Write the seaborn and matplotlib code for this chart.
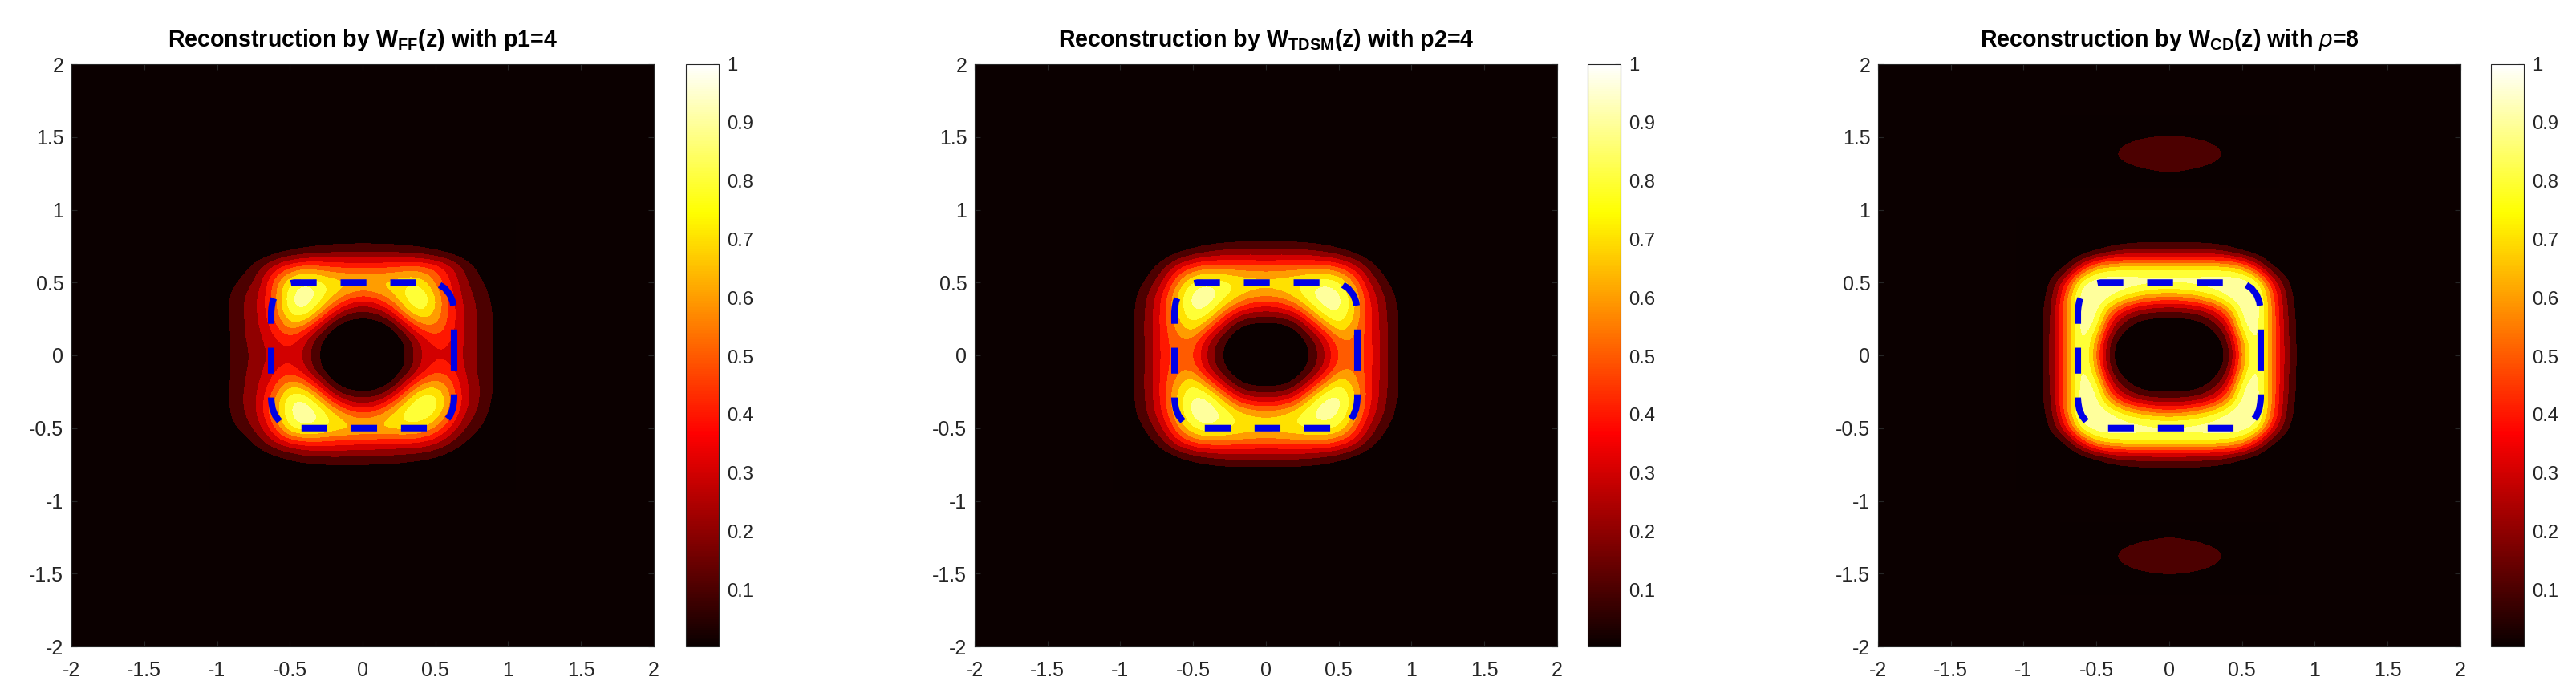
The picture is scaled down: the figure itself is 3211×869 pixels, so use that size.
import numpy as np
import matplotlib
matplotlib.use("Agg")
import matplotlib.pyplot as plt
import seaborn as sns
from matplotlib.cm import ScalarMappable
from matplotlib.colors import BoundaryNorm, ListedColormap, Normalize

# values, rows run from y=0.9 down to y=-0.9
x_vals = [-1.0, -0.9, -0.8, -0.7, -0.6, -0.5, -0.4, -0.3, -0.2, -0.1, 0.0,
          0.1, 0.2, 0.3, 0.4, 0.5, 0.6, 0.7, 0.8, 0.9, 1.0]
y_vals = [0.9, 0.8, 0.7, 0.6, 0.5, 0.4, 0.3, 0.2, 0.1, 0.0, -0.1, -0.2, -0.3,
          -0.4, -0.5, -0.6, -0.7, -0.8, -0.9]

ff_vals = [
    [0, 0, 0, 0, 0, 0, 0, 0, 0, 0, 0, 0, 0, 0, 0, 0, 0, 0, 0, 0, 0],
    [0, 0, 0, 0, 0, .01, .02, .03, .04, .04, .04, .04, .04, .03, .02, .01, 0, 0, 0, 0, 0],
    [0, 0, 0, .01, .05, .09, .13, .16, .18, .19, .2, .19, .18, .17, .14, .1, .06, .02, 0, 0, 0],
    [0, 0, .07, .2, .35, .52, .58, .56, .52, .5, .5, .5, .52, .55, .56, .5, .35, .18, .07, 0, 0],
    [0, .07, .15, .26, .57, .8, .92, .85, .78, .76, .75, .75, .76, .8, .78, .58, .4, .22, .12, .04, 0],
    [0, .12, .21, .32, .57, .9, 1.0, .9, .72, .57, .48, .55, .68, .85, .93, .72, .45, .26, .17, .07, 0],
    [.01, .12, .21, .32, .55, .86, .94, .7, .42, .22, .18, .22, .4, .7, .86, .7, .47, .28, .18, .09, 0],
    [.01, .11, .21, .3, .47, .68, .6, .35, .08, 0, 0, 0, .08, .34, .58, .62, .45, .3, .18, .1, .01],
    [.01, .11, .2, .28, .38, .45, .32, .1, 0, 0, 0, 0, 0, .1, .32, .45, .42, .29, .17, .09, .01],
    [.02, .11, .18, .26, .34, .38, .28, .1, 0, 0, 0, 0, 0, .1, .3, .38, .37, .29, .17, .1, .01],
    [.01, .11, .19, .28, .38, .45, .32, .1, 0, 0, 0, 0, 0, .1, .32, .47, .43, .3, .17, .1, .01],
    [.01, .11, .21, .3, .48, .68, .6, .35, .08, 0, 0, 0, .08, .35, .6, .68, .56, .32, .2, .09, 0],
    [.01, .12, .22, .33, .62, .9, .93, .7, .4, .22, .19, .22, .4, .68, .9, .88, .62, .35, .2, .08, 0],
    [0, .11, .21, .33, .65, .92, 1.0, .92, .75, .58, .5, .57, .72, .88, .92, .82, .56, .3, .17, .05, 0],
    [0, .07, .15, .28, .5, .84, .92, .88, .8, .78, .76, .76, .77, .78, .74, .6, .4, .2, .1, .02, 0],
    [0, 0, .05, .16, .3, .4, .47, .47, .46, .44, .43, .42, .41, .41, .4, .33, .2, .09, .03, 0, 0],
    [0, 0, 0, .02, .06, .11, .15, .17, .18, .18, .18, .17, .16, .14, .12, .08, .04, .01, 0, 0, 0],
    [0, 0, 0, 0, 0, .01, .02, .03, .03, .03, .03, .03, .03, .02, .01, .01, 0, 0, 0, 0, 0],
    [0, 0, 0, 0, 0, 0, 0, 0, 0, 0, 0, 0, 0, 0, 0, 0, 0, 0, 0, 0, 0],
]

tdsm_vals = [
    [0, 0, 0, 0, 0, 0, 0, 0, 0, 0, 0, 0, 0, 0, 0, 0, 0, 0, 0, 0, 0],
    [0, 0, 0, 0, 0, .01, .02, .03, .04, .04, .04, .04, .04, .03, .02, .01, 0, 0, 0, 0, 0],
    [0, 0, 0, .01, .07, .13, .19, .23, .25, .26, .26, .26, .25, .23, .19, .13, .07, .01, 0, 0, 0],
    [0, 0, .05, .18, .38, .52, .58, .58, .56, .54, .53, .54, .56, .58, .58, .52, .38, .18, .05, 0, 0],
    [0, .03, .14, .32, .62, .84, .9, .86, .81, .79, .78, .79, .81, .86, .9, .84, .62, .32, .14, .03, 0],
    [0, .08, .22, .43, .76, .96, 1.0, .88, .74, .64, .6, .64, .74, .9, 1.0, .96, .74, .42, .22, .08, 0],
    [0, .09, .24, .46, .74, .92, .9, .64, .42, .31, .3, .31, .42, .66, .9, .94, .74, .45, .24, .09, 0],
    [0, .1, .25, .46, .66, .82, .6, .33, .1, .03, .02, .03, .1, .33, .6, .82, .66, .46, .25, .1, 0],
    [0, .1, .24, .46, .58, .58, .32, .12, 0, 0, 0, 0, 0, .12, .32, .58, .6, .46, .25, .1, 0],
    [0, .1, .23, .46, .56, .52, .27, .09, 0, 0, 0, 0, 0, .09, .27, .52, .58, .48, .25, .1, 0],
    [0, .1, .24, .46, .58, .58, .32, .12, 0, 0, 0, 0, 0, .12, .32, .58, .6, .46, .25, .1, 0],
    [0, .1, .25, .46, .68, .84, .62, .35, .12, .04, .04, .04, .12, .35, .62, .84, .68, .46, .25, .1, 0],
    [0, .09, .24, .46, .76, .94, .94, .7, .44, .32, .3, .32, .44, .7, .94, .96, .76, .45, .24, .09, 0],
    [0, .08, .22, .42, .74, .96, 1.0, .92, .78, .7, .68, .7, .78, .92, .98, .92, .72, .4, .21, .07, 0],
    [0, .03, .14, .32, .6, .84, .9, .86, .81, .79, .78, .79, .81, .84, .86, .82, .58, .3, .13, .03, 0],
    [0, 0, .05, .18, .38, .52, .58, .58, .56, .54, .53, .54, .56, .57, .56, .5, .36, .17, .05, 0, 0],
    [0, 0, 0, .01, .07, .13, .18, .21, .23, .23, .23, .23, .22, .2, .17, .12, .06, .01, 0, 0, 0],
    [0, 0, 0, 0, 0, .01, .02, .03, .03, .03, .03, .03, .03, .03, .02, .01, 0, 0, 0, 0, 0],
    [0, 0, 0, 0, 0, 0, 0, 0, 0, 0, 0, 0, 0, 0, 0, 0, 0, 0, 0, 0, 0],
]

cd_vals = [
    [0, 0, 0, 0, 0, 0, 0, 0, 0, 0, 0, 0, 0, 0, 0, 0, 0, 0, 0, 0, 0],
    [0, 0, 0, 0, 0, 0, .01, .02, .03, .03, .03, .03, .03, .02, .01, 0, 0, 0, 0, 0, 0],
    [0, 0, 0, 0, .02, .07, .17, .22, .24, .25, .25, .25, .24, .22, .17, .07, .02, 0, 0, 0, 0],
    [0, 0, .01, .08, .38, .7, .78, .79, .78, .78, .78, .78, .78, .79, .78, .7, .38, .08, .01, 0, 0],
    [0, 0, .12, .42, .92, 1.0, 1.0, 1.0, 1.0, 1.0, 1.0, 1.0, 1.0, 1.0, 1.0, 1.0, .92, .42, .12, 0, 0],
    [0, .02, .17, .6, 1.0, 1.0, .94, .8, .7, .62, .6, .62, .7, .8, .94, 1.0, 1.0, .6, .17, .02, 0],
    [0, .03, .2, .62, 1.0, .96, .58, .34, .22, .18, .17, .18, .22, .34, .58, .96, 1.0, .62, .2, .03, 0],
    [0, .03, .22, .62, 1.0, .9, .32, .11, .02, 0, 0, 0, .02, .11, .32, .9, 1.0, .62, .22, .03, 0],
    [0, .03, .23, .62, 1.0, .68, .14, .02, 0, 0, 0, 0, 0, .02, .14, .68, 1.0, .62, .23, .03, 0],
    [0, .03, .23, .62, 1.0, .62, .07, 0, 0, 0, 0, 0, 0, 0, .08, .62, 1.0, .62, .25, .03, 0],
    [0, .03, .23, .62, 1.0, .68, .14, .02, 0, 0, 0, 0, 0, .02, .14, .68, 1.0, .62, .23, .03, 0],
    [0, .03, .22, .62, 1.0, .9, .32, .11, .02, 0, 0, 0, .02, .11, .32, .9, 1.0, .62, .22, .03, 0],
    [0, .03, .2, .62, 1.0, .96, .58, .34, .22, .18, .17, .18, .22, .34, .58, .96, 1.0, .62, .2, .03, 0],
    [0, .02, .17, .6, 1.0, 1.0, .94, .8, .7, .62, .6, .62, .7, .8, .94, 1.0, 1.0, .6, .17, .02, 0],
    [0, 0, .12, .42, .92, 1.0, 1.0, 1.0, 1.0, 1.0, 1.0, 1.0, 1.0, 1.0, 1.0, 1.0, .92, .42, .12, 0, 0],
    [0, 0, .01, .08, .38, .7, .78, .79, .78, .78, .78, .78, .78, .79, .78, .7, .38, .08, .01, 0, 0],
    [0, 0, 0, 0, .02, .07, .17, .22, .24, .25, .25, .25, .24, .22, .17, .07, .02, 0, 0, 0, 0],
    [0, 0, 0, 0, 0, 0, .01, .02, .03, .03, .03, .03, .03, .02, .01, 0, 0, 0, 0, 0, 0],
    [0, 0, 0, 0, 0, 0, 0, 0, 0, 0, 0, 0, 0, 0, 0, 0, 0, 0, 0, 0, 0],
]

# the two faint patches in the third panel
lobe_x = [-0.7, -0.6, -0.5, -0.4, -0.3, -0.2, -0.1, 0.0, 0.1, 0.2, 0.3, 0.4, 0.5, 0.6, 0.7]
lobe_top_y = [1.6, 1.5, 1.4, 1.3, 1.2]
lobe_bottom_y = [-1.2, -1.3, -1.4, -1.5, -1.6]
lobe_vals = [
    [0, 0, .01, .02, .03, .04, .05, .06, .05, .04, .03, .02, .01, 0, 0],
    [0, .02, .05, .076, .09, .1, .106, .108, .106, .1, .09, .076, .05, .02, 0],
    [.02, .05, .08, .098, .112, .122, .128, .129, .128, .122, .112, .098, .08, .05, .02],
    [.01, .04, .07, .09, .102, .112, .118, .12, .118, .112, .102, .09, .07, .04, .01],
    [0, .01, .01, .02, .04, .06, .07, .08, .07, .06, .04, .02, .01, .01, 0],
]

# dashed contour, starts on the right side and runs counter clockwise
curve_x = [0.628, 0.628, 0.625, 0.618, 0.6, 0.565, 0.52, 0.47, 0.0, -0.47, -0.52, -0.565,
           -0.6, -0.618, -0.625, -0.628, -0.628, -0.625, -0.618, -0.6, -0.565, -0.52,
           -0.47, 0.0, 0.47, 0.52, 0.565, 0.6, 0.618, 0.625, 0.628, 0.628]
curve_y = [0.0, 0.3, 0.33, 0.37, 0.415, 0.46, 0.49, 0.5, 0.5, 0.5, 0.49, 0.46,
           0.415, 0.37, 0.33, 0.3, -0.3, -0.33, -0.37, -0.415, -0.46, -0.49,
           -0.5, -0.5, -0.5, -0.49, -0.46, -0.415, -0.37, -0.33, -0.3, 0.0]

titles = [r"Reconstruction by W$_{\mathbf{FF}}$(z) with p1=4",
          r"Reconstruction by W$_{\mathbf{TDSM}}$(z) with p2=4",
          r"Reconstruction by W$_{\mathbf{CD}}$(z) with $\rho$=8"]
axis_ticks = [-2, -1.5, -1, -0.5, 0, 0.5, 1, 1.5, 2]
axis_labels = ["-2", "-1.5", "-1", "-0.5", "0", "0.5", "1", "1.5", "2"]
bar_ticks = [0.1, 0.2, 0.3, 0.4, 0.5, 0.6, 0.7, 0.8, 0.9, 1]
bar_labels = ["0.1", "0.2", "0.3", "0.4", "0.5", "0.6", "0.7", "0.8", "0.9", "1"]
levels = [0, 0.1, 0.2, 0.3, 0.4, 0.5, 0.6, 0.7, 0.8, 0.9, 1.001]

W, H = 3212, 869
panel_left = [89, 1215, 2341]
bar_left = [855, 1979, 3105]
panel_size = 726
bar_width = 41
panel_top = 80

sns.set_style("ticks")
plt.rcParams["font.family"] = ["Liberation Sans", "DejaVu Sans"]
plt.rcParams["mathtext.fontset"] = "custom"
plt.rcParams["mathtext.rm"] = "Liberation Sans"
plt.rcParams["mathtext.bf"] = "Liberation Sans:bold"
plt.rcParams["mathtext.it"] = "Liberation Sans:italic"

hot = sns.color_palette("hot", as_cmap=True)
band_cmap = ListedColormap([hot(v) for v in levels[:-1]])
band_norm = BoundaryNorm(levels, band_cmap.N)
dark = "#262626"


def draw_field(ax, vals, xs, ys):
    dx = abs(xs[1] - xs[0]) / 2
    dy = abs(ys[1] - ys[0]) / 2
    ax.imshow(vals, extent=(xs[0] - dx, xs[-1] + dx, ys[-1] - dy, ys[0] + dy),
              cmap=band_cmap, norm=band_norm, interpolation="bicubic",
              interpolation_stage="data", aspect="auto", zorder=1)


fig = plt.figure(figsize=(W / 200, H / 200), dpi=200)
fields = [ff_vals, tdsm_vals, cd_vals]

for i in range(3):
    ax = fig.add_axes([panel_left[i] / W, 1 - (panel_top + panel_size) / H,
                       panel_size / W, panel_size / H])
    ax.set_facecolor(hot(0.0))
    draw_field(ax, fields[i], x_vals, y_vals)
    if i == 2:
        draw_field(ax, lobe_vals, lobe_x, lobe_top_y)
        draw_field(ax, lobe_vals[::-1], lobe_x, lobe_bottom_y)
    sns.lineplot(x=curve_x, y=curve_y, sort=False, estimator=None, errorbar=None,
                 color="#0000e6", linewidth=2.9, linestyle=(0, (4.0, 3.7)), ax=ax, zorder=3)
    ax.set_xlim(-2, 2)
    ax.set_ylim(-2, 2)
    ax.set_xticks(axis_ticks)
    ax.set_xticklabels(axis_labels)
    ax.set_yticks(axis_ticks)
    ax.set_yticklabels(axis_labels)
    ax.tick_params(direction="in", length=2.6, width=0.4, top=True, right=True,
                   labelsize=9.0, colors=dark)
    ax.tick_params(axis="x", pad=6.5)
    ax.tick_params(axis="y", pad=3.5)
    for sp in ax.spines.values():
        sp.set_linewidth(0.4)
        sp.set_color(dark)
    ax.set_title(titles[i], fontsize=10.3, fontweight="bold", color="black", pad=8)

    cax = fig.add_axes([bar_left[i] / W, 1 - (panel_top + panel_size) / H,
                        bar_width / W, panel_size / H])
    cb = fig.colorbar(ScalarMappable(Normalize(0.003, 1), hot), cax=cax)
    cb.set_ticks(bar_ticks)
    cb.set_ticklabels(bar_labels)
    cb.ax.tick_params(direction="in", length=2.6, width=0.4, labelsize=8.6, colors=dark, pad=3.5)
    cb.outline.set_linewidth(0.4)
    cb.outline.set_edgecolor(dark)

fig.savefig("out.png", dpi=200)
